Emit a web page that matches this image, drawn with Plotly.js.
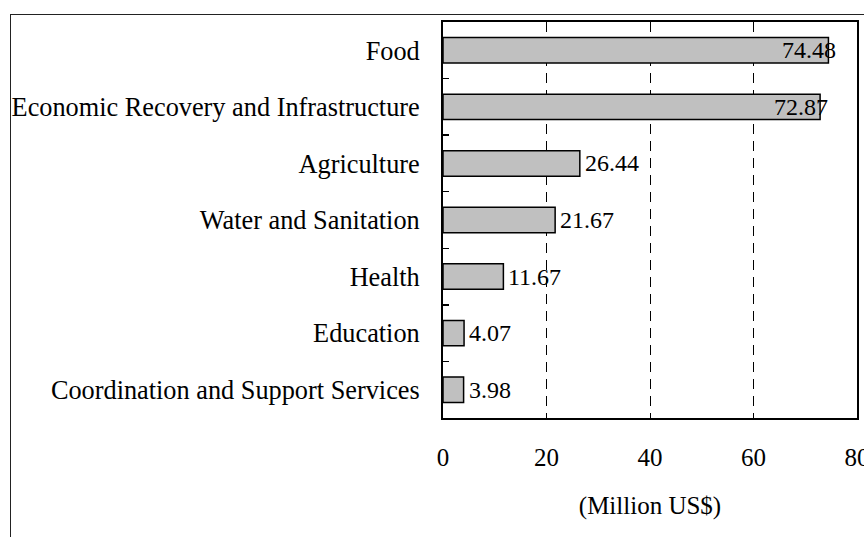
<!DOCTYPE html>
<html>
<head>
<meta charset="utf-8">
<script src="https://cdn.plot.ly/plotly-3.0.1.min.js"></script>
<style>
  html, body { margin: 0; padding: 0; background: #fff; }
  #wrap { position: relative; width: 864px; height: 537px; overflow: hidden; }
  #frame { position: absolute; left: 10px; top: 14px; width: 900px; height: 600px;
           border-left: 1px solid #222; border-top: 1px solid #222; pointer-events: none; z-index: 2; }
  #chart { position: absolute; left: 0; top: 0; width: 864px; height: 537px; }
</style>
</head>
<body>
<div id="wrap">
  <div id="chart"></div>
  <div id="frame"></div>
</div>
<script>
const categories = [
  "Food",
  "Economic Recovery and Infrastructure",
  "Agriculture",
  "Water and Sanitation",
  "Health",
  "Education",
  "Coordination and Support Services"
];
const values = [74.48, 72.87, 26.44, 21.67, 11.67, 4.07, 3.98];
const xTickValues = [0, 20, 40, 60, 80];
const xTitle = "(Million US$)";

const FONT = "Liberation Serif, Times New Roman, serif";

const trace = {
  type: "bar",
  orientation: "h",
  y: categories,
  x: values,
  width: 0.45,
  marker: { color: "#c0c0c0", line: { color: "#000", width: 1.5 } },
  hoverinfo: "skip"
};

const annotations = values.map((v, i) => {
  const big = v > 60;
  return {
    x: v, y: categories[i], xref: "x", yref: "y",
    text: v.toFixed(2),
    showarrow: false,
    xanchor: big ? "right" : "left",
    xshift: big ? 10 : 3,
    font: { family: FONT, size: 24, color: "#000" }
  };
});

const layout = {
  width: 864, height: 537,
  margin: { l: 443, r: 7, t: 22, b: 119, pad: 0 },
  paper_bgcolor: "rgba(0,0,0,0)",
  plot_bgcolor: "#fff",
  showlegend: false,
  font: { family: FONT, size: 25, color: "#000" },
  xaxis: {
    range: [0, 80],
    tickvals: xTickValues,
    ticktext: xTickValues.map(String),
    showgrid: true, gridcolor: "#000", gridwidth: 1, griddash: "10px,7px",
    zeroline: false,
    showline: true, linecolor: "#000", linewidth: 2, mirror: true,
    ticks: "", ticklabelstandoff: 16,
    ticklabeloverflow: "allow",
    tickfont: { family: FONT, size: 25, color: "#000" },
    title: { text: xTitle, font: { family: FONT, size: 25, color: "#000" }, standoff: 26 },
    fixedrange: true
  },
  yaxis: {
    autorange: "reversed",
    type: "category",
    showgrid: false, zeroline: false,
    showline: true, linecolor: "#000", linewidth: 2, mirror: true,
    ticks: "inside", ticklen: 6, tickwidth: 1.5, tickcolor: "#000",
    tickson: "boundaries",
    ticklabelstandoff: 16,
    tickfont: { family: FONT, size: 26.3, color: "#000" },
    fixedrange: true
  },
  annotations: annotations
};

Plotly.newPlot("chart", [trace], layout, { staticPlot: true, displayModeBar: false });
</script>
</body>
</html>
